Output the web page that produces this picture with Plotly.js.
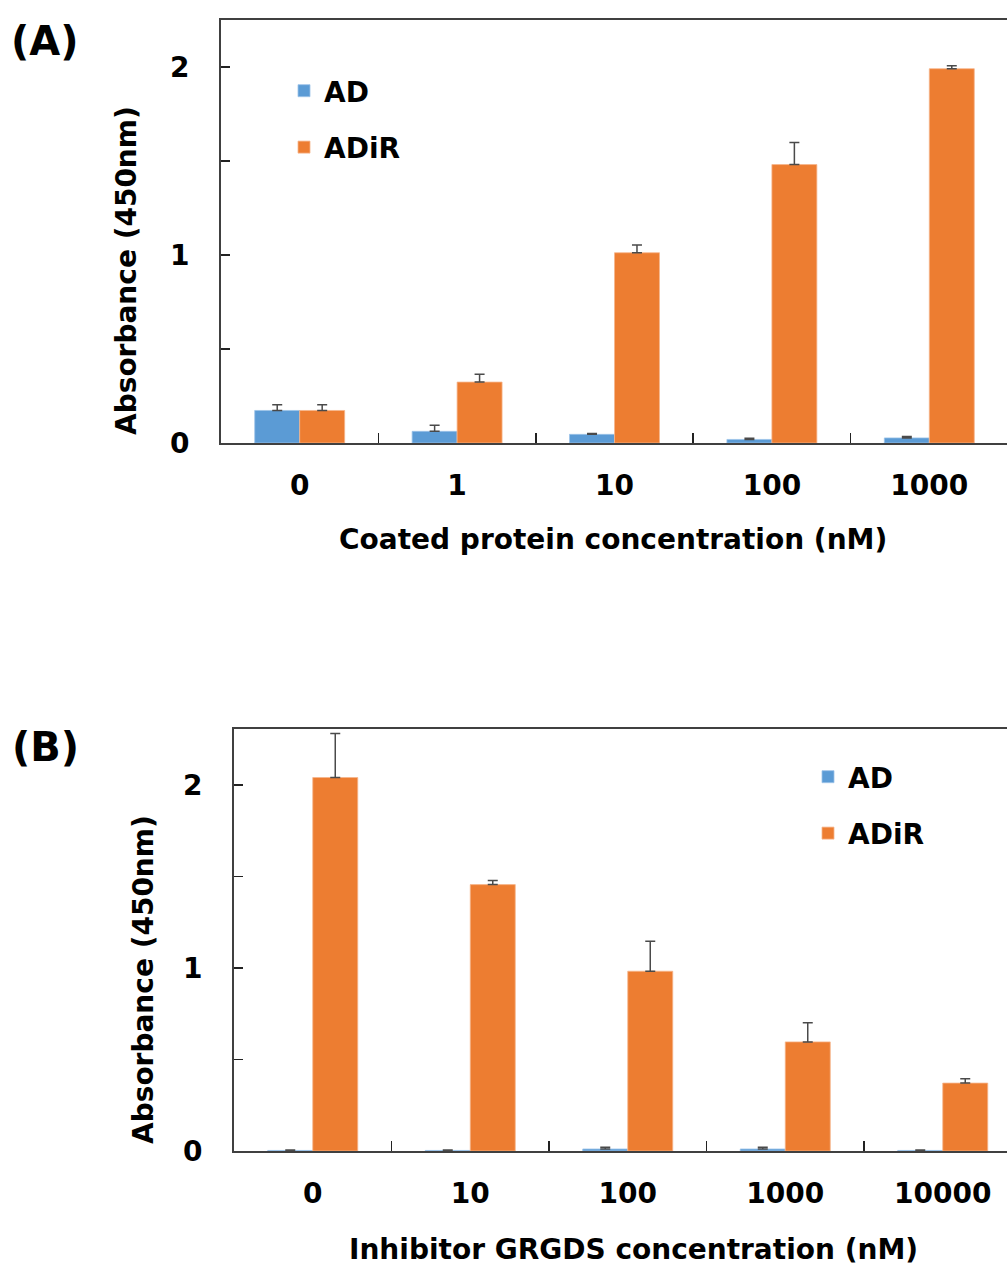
<!DOCTYPE html>
<html>
<head>
<meta charset="utf-8">
<script src="https://cdn.plot.ly/plotly-3.0.1.min.js"></script>
<style>
html, body { margin: 0; padding: 0; overflow: hidden; background: #fff; }
#chart { width: 1030px; height: 1269px; }
</style>
</head>
<body>
<div id="chart"></div>
<script>
// Panel A data
const catsA = ['0', '1', '10', '100', '1000'];
const adA = [0.173, 0.062, 0.046, 0.019, 0.027];
const adErrA = [0.031, 0.032, 0.005, 0.006, 0.007];
const adirA = [0.173, 0.324, 1.012, 1.481, 1.991];
const adirErrA = [0.031, 0.042, 0.041, 0.117, 0.016];

// Panel B data
const catsB = ['0', '10', '100', '1000', '10000'];
const adB = [0.003, 0.003, 0.011, 0.011, 0.003];
const adErrB = [0.003, 0.003, 0.009, 0.009, 0.003];
const adirB = [2.04, 1.455, 0.982, 0.596, 0.371];
const adirErrB = [0.24, 0.023, 0.163, 0.104, 0.024];

const seriesNames = ['AD', 'ADiR'];
const yTickVals = [0, 0.5, 1, 1.5, 2];
const yTickText = ['0', '', '1', '', '2'];

const BLUE = '#5B9BD5';
const ORANGE = '#ED7D31';
const FONT = 'DejaVu Sans, Arial, sans-serif';
const W = 1030, H = 1269;

function errY(arr) {
  return {type: 'data', symmetric: false, array: arr, arrayminus: arr.map(() => 0),
          color: '#4a4a4a', thickness: 1.5, width: 5};
}

const traces = [
  {type: 'bar', name: seriesNames[0], x: catsA, y: adA, error_y: errY(adErrA),
   marker: {color: BLUE, line: {color: '#9cc3e8', width: 0.8}}, xaxis: 'x', yaxis: 'y', legend: 'legend', legendgroup: 'a1'},
  {type: 'bar', name: seriesNames[1], x: catsA, y: adirA, error_y: errY(adirErrA),
   marker: {color: ORANGE, line: {color: '#f6b58c', width: 0.8}}, xaxis: 'x', yaxis: 'y', legend: 'legend', legendgroup: 'a2'},
  {type: 'bar', name: seriesNames[0], x: catsB, y: adB, error_y: errY(adErrB),
   marker: {color: BLUE, line: {color: '#9cc3e8', width: 0.8}}, xaxis: 'x2', yaxis: 'y2', legend: 'legend2', legendgroup: 'b1'},
  {type: 'bar', name: seriesNames[1], x: catsB, y: adirB, error_y: errY(adirErrB),
   marker: {color: ORANGE, line: {color: '#f6b58c', width: 0.8}}, xaxis: 'x2', yaxis: 'y2', legend: 'legend2', legendgroup: 'b2'}
];

const tickFont = {family: FONT, size: 28, color: '#000', weight: 'bold'};
const AXC = '#404040';

function xax(dom, anchor) {
  return {domain: dom, anchor: anchor, type: 'category', showline: true, linecolor: AXC, linewidth: 2,
          mirror: true, ticks: 'inside', tickson: 'boundaries', ticklen: 10, tickwidth: 1.5,
          tickcolor: '#222', showgrid: false, zeroline: false, tickfont: tickFont,
          ticklabelstandoff: 16, fixedrange: true};
}
function yax(dom, anchor, range) {
  return {domain: dom, anchor: anchor, range: range, showline: true, linecolor: AXC, linewidth: 2,
          mirror: false, ticks: 'inside', ticklen: 9, tickwidth: 1.5, tickcolor: '#222',
          tickvals: yTickVals, ticktext: yTickText, showgrid: false, zeroline: false,
          tickfont: tickFont, ticklabelstandoff: 24, fixedrange: true};
}

const px = v => v / W;
const py = v => (H - v) / H;

const legendBase = {font: {family: FONT, size: 28, color: '#000', weight: 'bold'},
                    bgcolor: 'rgba(0,0,0,0)', borderwidth: 0, tracegroupgap: 17,
                    itemclick: false, itemdoubleclick: false, xanchor: 'left', yanchor: 'top'};

const titleFont = {family: FONT, size: 28, color: '#000', weight: 'bold'};

const layout = {
  width: W, height: H, autosize: false,
  margin: {l: 0, r: 0, t: 0, b: 0},
  paper_bgcolor: '#fff', plot_bgcolor: '#fff',
  barmode: 'group', bargap: 0.4286, bargroupgap: 0,
  showlegend: true,
  xaxis: xax([px(221), px(1008)], 'y'),
  yaxis: yax([py(443), py(20)], 'x', [0, 2.25]),
  xaxis2: xax([px(234), px(1021.5)], 'y2'),
  yaxis2: yax([py(1151), py(729)], 'x2', [0, 2.305]),
  legend: Object.assign({}, legendBase, {x: px(284), y: py(66)}),
  legend2: Object.assign({}, legendBase, {x: px(808), y: py(752)}),
  annotations: [
    {text: '(A)', xref: 'paper', yref: 'paper', x: px(45), y: py(41), xanchor: 'center', yanchor: 'middle',
     showarrow: false, font: {family: FONT, size: 40, color: '#000', weight: 'bold'}},
    {text: '(B)', xref: 'paper', yref: 'paper', x: px(45), y: py(747), xanchor: 'center', yanchor: 'middle',
     showarrow: false, font: {family: FONT, size: 40, color: '#000', weight: 'bold'}},
    {text: 'Absorbance (450nm)', xref: 'paper', yref: 'paper', x: px(127), y: py(271), textangle: -90,
     xanchor: 'center', yanchor: 'middle', showarrow: false, font: titleFont},
    {text: 'Absorbance (450nm)', xref: 'paper', yref: 'paper', x: px(143), y: py(980), textangle: -90,
     xanchor: 'center', yanchor: 'middle', showarrow: false, font: titleFont},
    {text: 'Coated protein concentration (nM)', xref: 'paper', yref: 'paper', x: px(613), y: py(540),
     xanchor: 'center', yanchor: 'middle', showarrow: false, font: titleFont},
    {text: 'Inhibitor GRGDS concentration (nM)', xref: 'paper', yref: 'paper', x: px(633), y: py(1249),
     xanchor: 'center', yanchor: 'middle', showarrow: false, font: titleFont}
  ]
};

Plotly.newPlot('chart', traces, layout, {displayModeBar: false, staticPlot: true});
</script>
</body>
</html>
